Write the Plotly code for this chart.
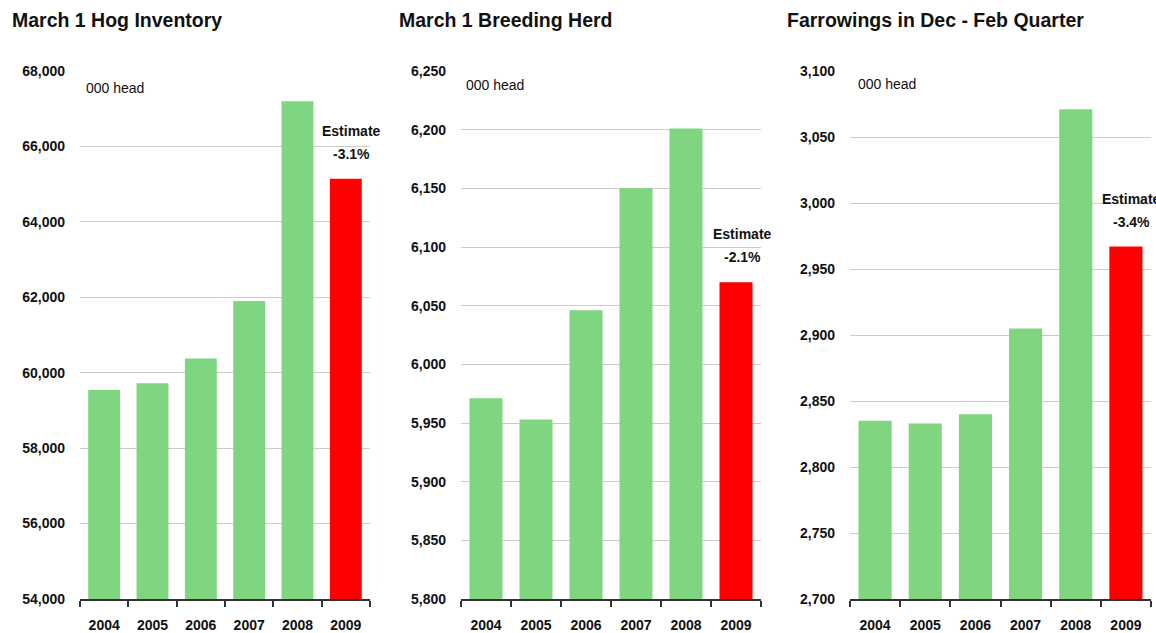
import plotly.graph_objects as go

years = ["2004", "2005", "2006", "2007", "2008", "2009"]
hog_inventory = [59540, 59720, 60380, 61900, 67200, 65140]
breeding_herd = [5971, 5953, 6046, 6150, 6201, 6070]
farrowings = [2835, 2833, 2840, 2905, 3071, 2967]

titles = ["March 1 Hog Inventory", "March 1 Breeding Herd", "Farrowings in Dec - Feb Quarter"]
changes = ["-3.1%", "-2.1%", "-3.4%"]
unit_label = "000 head"
y_ranges = [(54000, 68000, 2000), (5800, 6250, 50), (2700, 3100, 50)]

GREEN = "#80D580"
RED = "#FF0000"
FONT = "Arial"

W, H = 1156, 633
L, R, T, B = 80, 5, 71, 34
PW = W - L - R
PH = H - T - B


def px(x):
    return (x - L) / PW


def py(y):
    return (H - B - y) / PH


panels_px = [(80, 370), (461, 761), (850, 1151)]
title_x = [10, 397, 785]
unit_pos = [(84, 88), (464, 85), (856, 84)]

series = [hog_inventory, breeding_herd, farrowings]
xpos = list(range(len(years)))
bounds = [i - 0.5 for i in range(len(years) + 1)]

fig = go.Figure()
annotations = []
layout = dict(
    width=W, height=H,
    margin=dict(l=L, r=R, t=T, b=B, autoexpand=False),
    paper_bgcolor="white", plot_bgcolor="white",
    showlegend=False,
    font=dict(family=FONT, color="#111111"),
)

for i, vals in enumerate(series):
    n = "" if i == 0 else str(i + 1)
    colors = [GREEN] * (len(years) - 1) + [RED]
    fig.add_trace(go.Bar(
        x=xpos, y=vals, width=0.66, marker=dict(color=colors, line=dict(width=0)),
        xaxis="x" + n, yaxis="y" + n, customdata=years,
        hovertemplate="%{customdata}: %{y:,}<extra></extra>",
    ))
    x0, x1 = panels_px[i]
    lo, hi, dt = y_ranges[i]
    layout["xaxis" + n] = dict(
        domain=[px(x0), min(px(x1), 1.0)], anchor="y" + n,
        range=[-0.5, len(years) - 0.5],
        tickmode="array", tickvals=xpos, ticktext=years, ticks="",
        tickangle=0, automargin=False, ticklabelstandoff=12,
        showline=True, linecolor="#333333", linewidth=1.5,
        tickfont=dict(family=FONT, size=14, color="#111111", weight="bold"),
        minor=dict(tickmode="array", tickvals=bounds, ticks="outside", ticklen=6,
                   tickcolor="#333333", tickwidth=1.5, showgrid=False),
        showgrid=False, zeroline=False, fixedrange=True,
    )
    layout["yaxis" + n] = dict(
        domain=[0, 1], anchor="x" + n, range=[lo, hi], dtick=dt, tick0=lo,
        tickformat=",d", showline=False, showgrid=True, gridcolor="#cccccc", gridwidth=1,
        zeroline=False, ticks="", ticklabelstandoff=14, automargin=False,
        tickfont=dict(family=FONT, size=14, color="#111111", weight="bold"),
        fixedrange=True,
    )
    annotations.append(dict(
        text=titles[i], xref="paper", yref="paper", x=px(title_x[i]), y=py(20),
        xanchor="left", yanchor="middle", showarrow=False,
        font=dict(family=FONT, size=19.5, color="#111111", weight="bold"),
    ))
    ux, uy = unit_pos[i]
    annotations.append(dict(
        text=unit_label, xref="paper", yref="paper", x=px(ux), y=py(uy),
        xanchor="left", yanchor="middle", showarrow=False,
        font=dict(family=FONT, size=14, color="#111111"),
    ))
    last = vals[-1]
    annotations.append(dict(
        text="Estimate", xref="x" + n, yref="y" + n, x=xpos[-1], y=last,
        xanchor="center", yanchor="middle", showarrow=False, xshift=6, yshift=48,
        font=dict(family=FONT, size=14, color="#111111", weight="bold"),
    ))
    annotations.append(dict(
        text=changes[i], xref="x" + n, yref="y" + n, x=xpos[-1], y=last,
        xanchor="center", yanchor="middle", showarrow=False, xshift=6, yshift=25,
        font=dict(family=FONT, size=14, color="#111111", weight="bold"),
    ))

layout["annotations"] = annotations
fig.update_layout(**layout)
fig.write_html("out.html", config={"displayModeBar": False},
               post_script="document.body.style.margin='0';")
